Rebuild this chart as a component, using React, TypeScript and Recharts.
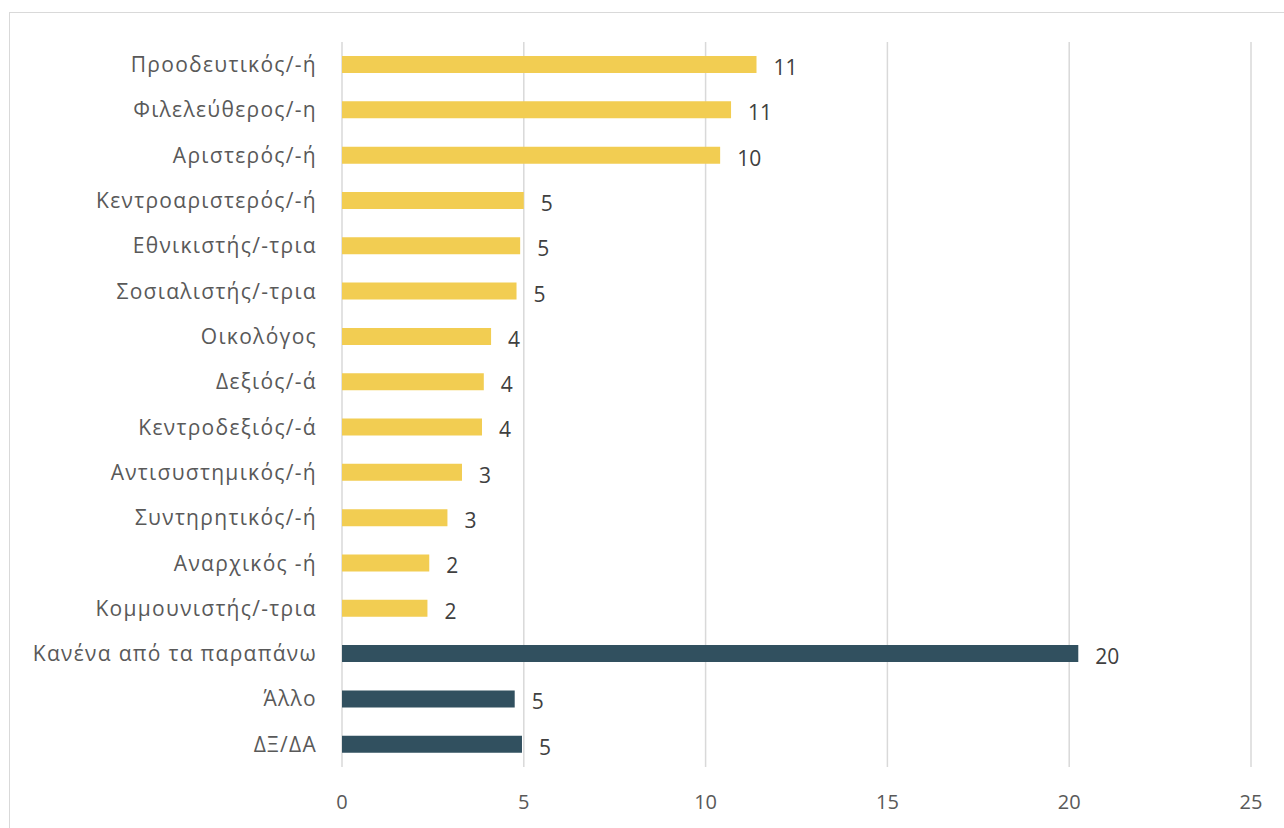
import { BarChart, Bar, XAxis, YAxis, CartesianGrid, Cell, LabelList } from 'recharts';

const categories = [
    'Προοδευτικός/-ή',
    'Φιλελεύθερος/-η',
    'Αριστερός/-ή',
    'Κεντροαριστερός/-ή',
    'Εθνικιστής/-τρια',
    'Σοσιαλιστής/-τρια',
    'Οικολόγος',
    'Δεξιός/-ά',
    'Κεντροδεξιός/-ά',
    'Αντισυστημικός/-ή',
    'Συντηρητικός/-ή',
    'Αναρχικός -ή',
    'Κομμουνιστής/-τρια',
    'Κανένα από τα παραπάνω',
    'Άλλο',
    'ΔΞ/ΔΑ',
];

const shares = [11.4, 10.7, 10.4, 5.0, 4.9, 4.8, 4.1, 3.9, 3.85, 3.3, 2.9, 2.4, 2.35, 20.25, 4.75, 4.95];

const groups = [
    'label', 'label', 'label', 'label', 'label', 'label', 'label', 'label',
    'label', 'label', 'label', 'label', 'label', 'none', 'none', 'none',
];

const xTicks = [0, 5, 10, 15, 20, 25];

const COLORS: Record<string, string> = { label: '#F2CD52', none: '#31505F' };

const rows = categories.map((name, i) => ({ name, value: shares[i], group: groups[i] }));

const FONT = '"Open Sans", "Noto Sans", sans-serif';

export default function App() {
    return (
        <div style={{ position: 'fixed', left: 0, top: 0, width: 1284, height: 828, background: '#fff', overflow: 'hidden' }}>
            <div
                style={{
                    position: 'absolute',
                    left: 9,
                    top: 12,
                    width: 1300,
                    height: 900,
                    border: '1.5px solid #d9d9d9',
                    boxSizing: 'border-box',
                }}
            />
            <div style={{ position: 'absolute', left: 0, top: 0 }}>
                <BarChart
                    width={1284}
                    height={828}
                    data={rows}
                    layout="vertical"
                    margin={{ top: 42, right: 33, bottom: 21, left: 0 }}
                    barCategoryGap={0}
                >
                    <CartesianGrid horizontal={false} vertical stroke="#d9d9d9" strokeWidth={1.5} />
                    <XAxis
                        type="number"
                        domain={[0, 25]}
                        ticks={xTicks}
                        axisLine={false}
                        tickLine={false}
                        height={40}
                        tickMargin={22}
                        tick={{ fill: '#595959', fontSize: 20, fontFamily: FONT }}
                    />
                    <YAxis
                        type="category"
                        dataKey="name"
                        width={342}
                        axisLine={false}
                        tickLine={false}
                        tickMargin={19}
                        interval={0}
                        tick={{ fill: '#595959', fontSize: 21, fontFamily: FONT, letterSpacing: 1.3 }}
                    />
                    <Bar dataKey="value" barSize={17} isAnimationActive={false}>
                        {rows.map((r, i) => (
                            <Cell key={i} fill={COLORS[r.group]} />
                        ))}
                        <LabelList
                            dataKey="value"
                            position="right"
                            offset={17}
                            formatter={(v: number) => Math.round(v)}
                            style={{ fill: '#404040', fontSize: 21, fontFamily: FONT, transform: 'translateY(3px)' }}
                        />
                    </Bar>
                </BarChart>
            </div>
        </div>
    );
}
